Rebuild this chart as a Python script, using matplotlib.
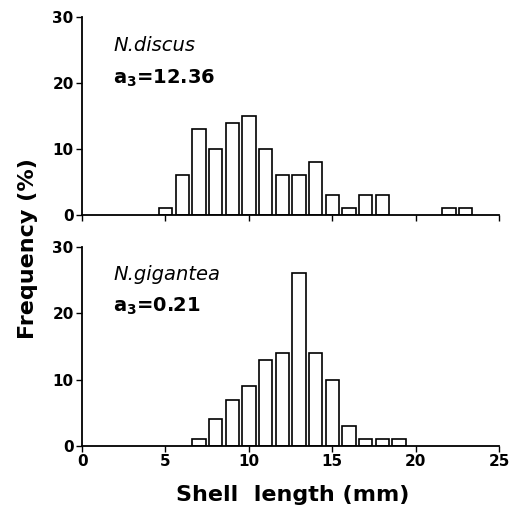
import matplotlib
matplotlib.use("Agg")
import matplotlib.pyplot as plt

plt.rcParams['font.family'] = ['DejaVu Sans']

# Data (shell length class centres in mm, frequency %)
discus_len = [5, 6, 7, 8, 9, 10, 11, 12, 13, 14, 15, 16, 17, 18, 22, 23]
discus_freq = [1, 6, 13, 10, 14, 15, 10, 6, 6, 8, 3, 1, 3, 3, 1, 1]
gigantea_len = [7, 8, 9, 10, 11, 12, 13, 14, 15, 16, 17, 18, 19]
gigantea_freq = [1, 4, 7, 9, 13, 14, 26, 14, 10, 3, 1, 1, 1]
x_ticks = [0, 5, 10, 15, 20, 25]
y_ticks = [0, 10, 20, 30]

fig = plt.figure(figsize=(5.13, 5.08), dpi=100)
ax1 = fig.add_axes([0.160, 0.577, 0.813, 0.3895])
ax2 = fig.add_axes([0.160, 0.122, 0.813, 0.392])

for ax, xs, ys in [(ax1, discus_len, discus_freq), (ax2, gigantea_len, gigantea_freq)]:
    ax.bar(xs, ys, width=0.8, facecolor='white', edgecolor='black', linewidth=1.2, zorder=3)
    ax.set_xlim(0, 25)
    ax.set_ylim(0, 30)
    ax.set_xticks(x_ticks)
    ax.set_yticks(y_ticks)
    for s in ['top', 'right']:
        ax.spines[s].set_visible(False)
    for s in ['left', 'bottom']:
        ax.spines[s].set_linewidth(1.3)
    ax.tick_params(direction='out', length=4, width=1.0, labelsize=11, pad=2)
    for lab in ax.get_yticklabels():
        lab.set_fontweight('bold')
    for lab in ax.get_xticklabels():
        lab.set_fontweight('bold')
    ax.spines['bottom'].set_zorder(4)

ax1.tick_params(axis='x', labelbottom=False)

ax1.text(0.075, 0.855, 'N.discus', transform=ax1.transAxes, fontsize=14,
         style='italic', ha='left', va='center')
ax1.text(0.075, 0.69, r'a$_{\mathbf{3}}$=12.36', transform=ax1.transAxes, fontsize=14,
         fontweight='bold', ha='left', va='center')
ax2.text(0.075, 0.86, 'N.gigantea', transform=ax2.transAxes, fontsize=14,
         style='italic', ha='left', va='center')
ax2.text(0.075, 0.70, r'a$_{\mathbf{3}}$=0.21', transform=ax2.transAxes, fontsize=14,
         fontweight='bold', ha='left', va='center')

fig.text(0.055, 0.51, 'Frequency (%)', rotation=90, ha='center', va='center',
         fontsize=16, fontweight='bold')
fig.text(0.57, 0.025, 'Shell  length (mm)', ha='center', va='center',
         fontsize=16, fontweight='bold')

fig.savefig('out.png', dpi=100, facecolor='white')
